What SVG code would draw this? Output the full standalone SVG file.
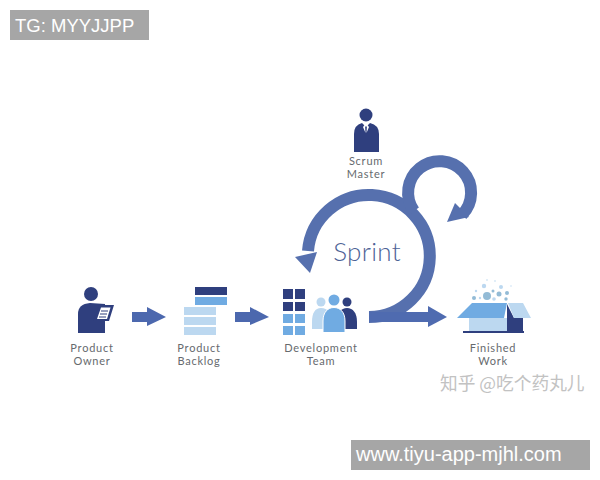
<svg xmlns="http://www.w3.org/2000/svg" width="600" height="480" viewBox="0 0 600 480">
<style>
.lb{font-family:"Lato","Open Sans","Liberation Sans",sans-serif;font-size:11px;fill:#666a6e;text-anchor:middle;letter-spacing:.75px}
.navy{fill:#2f3f7e}.mid{fill:#70abe2}.pale{fill:#bcd8f0}.arr{fill:#4c68ae}
.ring{fill:none;stroke:#5670ae;stroke-width:12}
.wm{fill:#a6a6a6}.wt{font-family:"Liberation Sans",Arial,sans-serif;fill:#fff}
.d{fill:#93bbd6}
</style>
<rect width="600" height="480" fill="#fff"/>
<g id="connectors">
<polygon class="arr" points="132,312 147,312 147,307 166,317 147,326 147,322 132,322"/>
<polygon class="arr" points="235,312 250,312 250,307 269,317 250,325 250,322 235,322"/>
<path class="ring" d="M369 317A61 61 0 1 0 308 251"/>
<polygon fill="#5670ae" points="295,257 317,252 310,273"/>
<path d="M369 317H429" fill="none" stroke="#4f6bb0" stroke-width="10"/>
<polygon fill="#4f6bb0" points="428,306 447,317 428,327"/>
<path class="ring" d="M414 211A31.500 31.500 0 1 1 462 214.800"/>
<polygon fill="#5670ae" points="447,222 455,203 469,217"/>
</g>
<g id="sprint-label"><text x="367" y="261" font-family="Lato,'Open Sans',sans-serif" font-size="26" font-weight="300" letter-spacing=".3" fill="#4d6296" text-anchor="middle">Sprint</text></g>
<g id="scrum-master">
<circle class="navy" cx="366" cy="115" r="6.500"/>
<path class="navy" d="M354 152V134Q354 125 362 123L366 127L370 123Q379 125 379 134V152Z"/>
<path d="M365 124.500L363 127L365.500 133ZM367 124.500L369 127L366.500 133Z" fill="#fff"/>
<text class="lb" x="366" y="165">Scrum</text><text class="lb" x="366" y="178">Master</text>
</g>
<g id="product-owner">
<circle class="navy" cx="91" cy="294" r="7"/>
<path class="navy" d="M78 333V314Q78 304 90 303L105 304V333Z"/>
<polygon class="navy" points="99,305 114,305 109,321 93,321"/>
<polygon fill="#fff" points="101,307.500 110.500,307.500 107,319 97,319"/>
<path d="M101 311H108M100 314H107M99 317H106" stroke="#2f3f7e" stroke-width="1.200"/>
<text class="lb" x="92" y="352">Product</text><text class="lb" x="92" y="365">Owner</text>
</g>
<g id="product-backlog">
<rect class="navy" x="195" y="287" width="32" height="8"/>
<rect class="mid" x="195" y="297" width="32" height="8"/>
<rect class="pale" x="184" y="307" width="32" height="8"/>
<rect class="pale" x="184" y="317" width="32" height="8"/>
<rect class="pale" x="184" y="327" width="32" height="8"/>
<text class="lb" x="199" y="352">Product</text><text class="lb" x="199" y="365">Backlog</text>
</g>
<g id="development-team">
<rect class="navy" x="283" y="289" width="10" height="10"/><rect class="navy" x="295" y="289" width="10" height="10"/>
<rect class="navy" x="283" y="302" width="10" height="9"/><rect class="navy" x="295" y="302" width="10" height="9"/>
<rect class="mid" x="283" y="314" width="10" height="9"/><rect class="mid" x="295" y="314" width="10" height="9"/>
<rect class="mid" x="283" y="326" width="10" height="9"/><rect class="mid" x="295" y="326" width="10" height="9"/>
<circle class="pale" cx="321" cy="302" r="4.500"/>
<path class="pale" d="M312 329V322C312 313 315 308 321 308C328 308 331 313 331 322V329Z"/>
<circle class="navy" cx="347" cy="302" r="4.500"/>
<path class="navy" d="M337 329V322C337 313 341 308 347 308C353 308 357 313 357 322V329Z"/>
<circle class="mid" cx="334" cy="300" r="5.500"/>
<path class="mid" stroke="#fff" stroke-width="1" d="M323 332.500V321C323 312 328 307.500 334 307.500C340 307.500 345 312 345 321V332.500Z"/>
<text class="lb" x="321" y="352">Development</text><text class="lb" x="321" y="365">Team</text>
</g>
<g id="finished-work">
<polygon class="pale" points="469,318 507,318 507,332 469,332"/>
<polygon class="navy" points="507,304 514,318 523,318 523,332 507,332"/>
<polygon class="mid" points="457,318 472,303 507,303 504,318"/>
<polygon class="pale" points="508,303 523,303 531,318 514,318"/>
<rect class="navy" x="463" y="331" width="61" height="2"/>
<circle class="d" cx="487" cy="296" r="4"/><circle class="d" cx="474" cy="298" r="2"/><circle class="d" cx="499" cy="294" r="2.500"/>
<circle class="d" cx="507" cy="293" r="2"/><circle class="d" cx="506" cy="299" r="1.700"/><circle class="d" cx="493" cy="291" r="1.500"/>
<circle class="pale" cx="484" cy="286" r="2.200"/><circle class="pale" cx="501" cy="287" r="2"/><circle class="pale" cx="494" cy="299" r="1.800"/>
<circle class="pale" cx="480" cy="298" r="1.200"/><circle class="pale" cx="476" cy="291" r="1.200"/><circle class="pale" cx="487" cy="280" r=".8"/>
<circle class="pale" cx="495" cy="281" r=".8"/><circle class="pale" cx="511" cy="286" r=".7"/>
<text class="lb" x="493" y="352">Finished</text><text class="lb" x="493" y="365">Work</text>
</g>
<g id="watermarks">
<text x="440" y="390" font-family="'Noto Sans CJK SC',sans-serif" font-size="17.700" fill="#c2c2c2">知乎 @吃个药丸儿</text>
<rect class="wm" x="10" y="10" width="139" height="30"/>
<text class="wt" x="15" y="32" font-size="18.500">TG: MYYJJPP</text>
<rect class="wm" x="351" y="440" width="239" height="30"/>
<text class="wt" x="356" y="461" font-size="20">www.tiyu-app-mjhl.com</text>
</g>
</svg>
